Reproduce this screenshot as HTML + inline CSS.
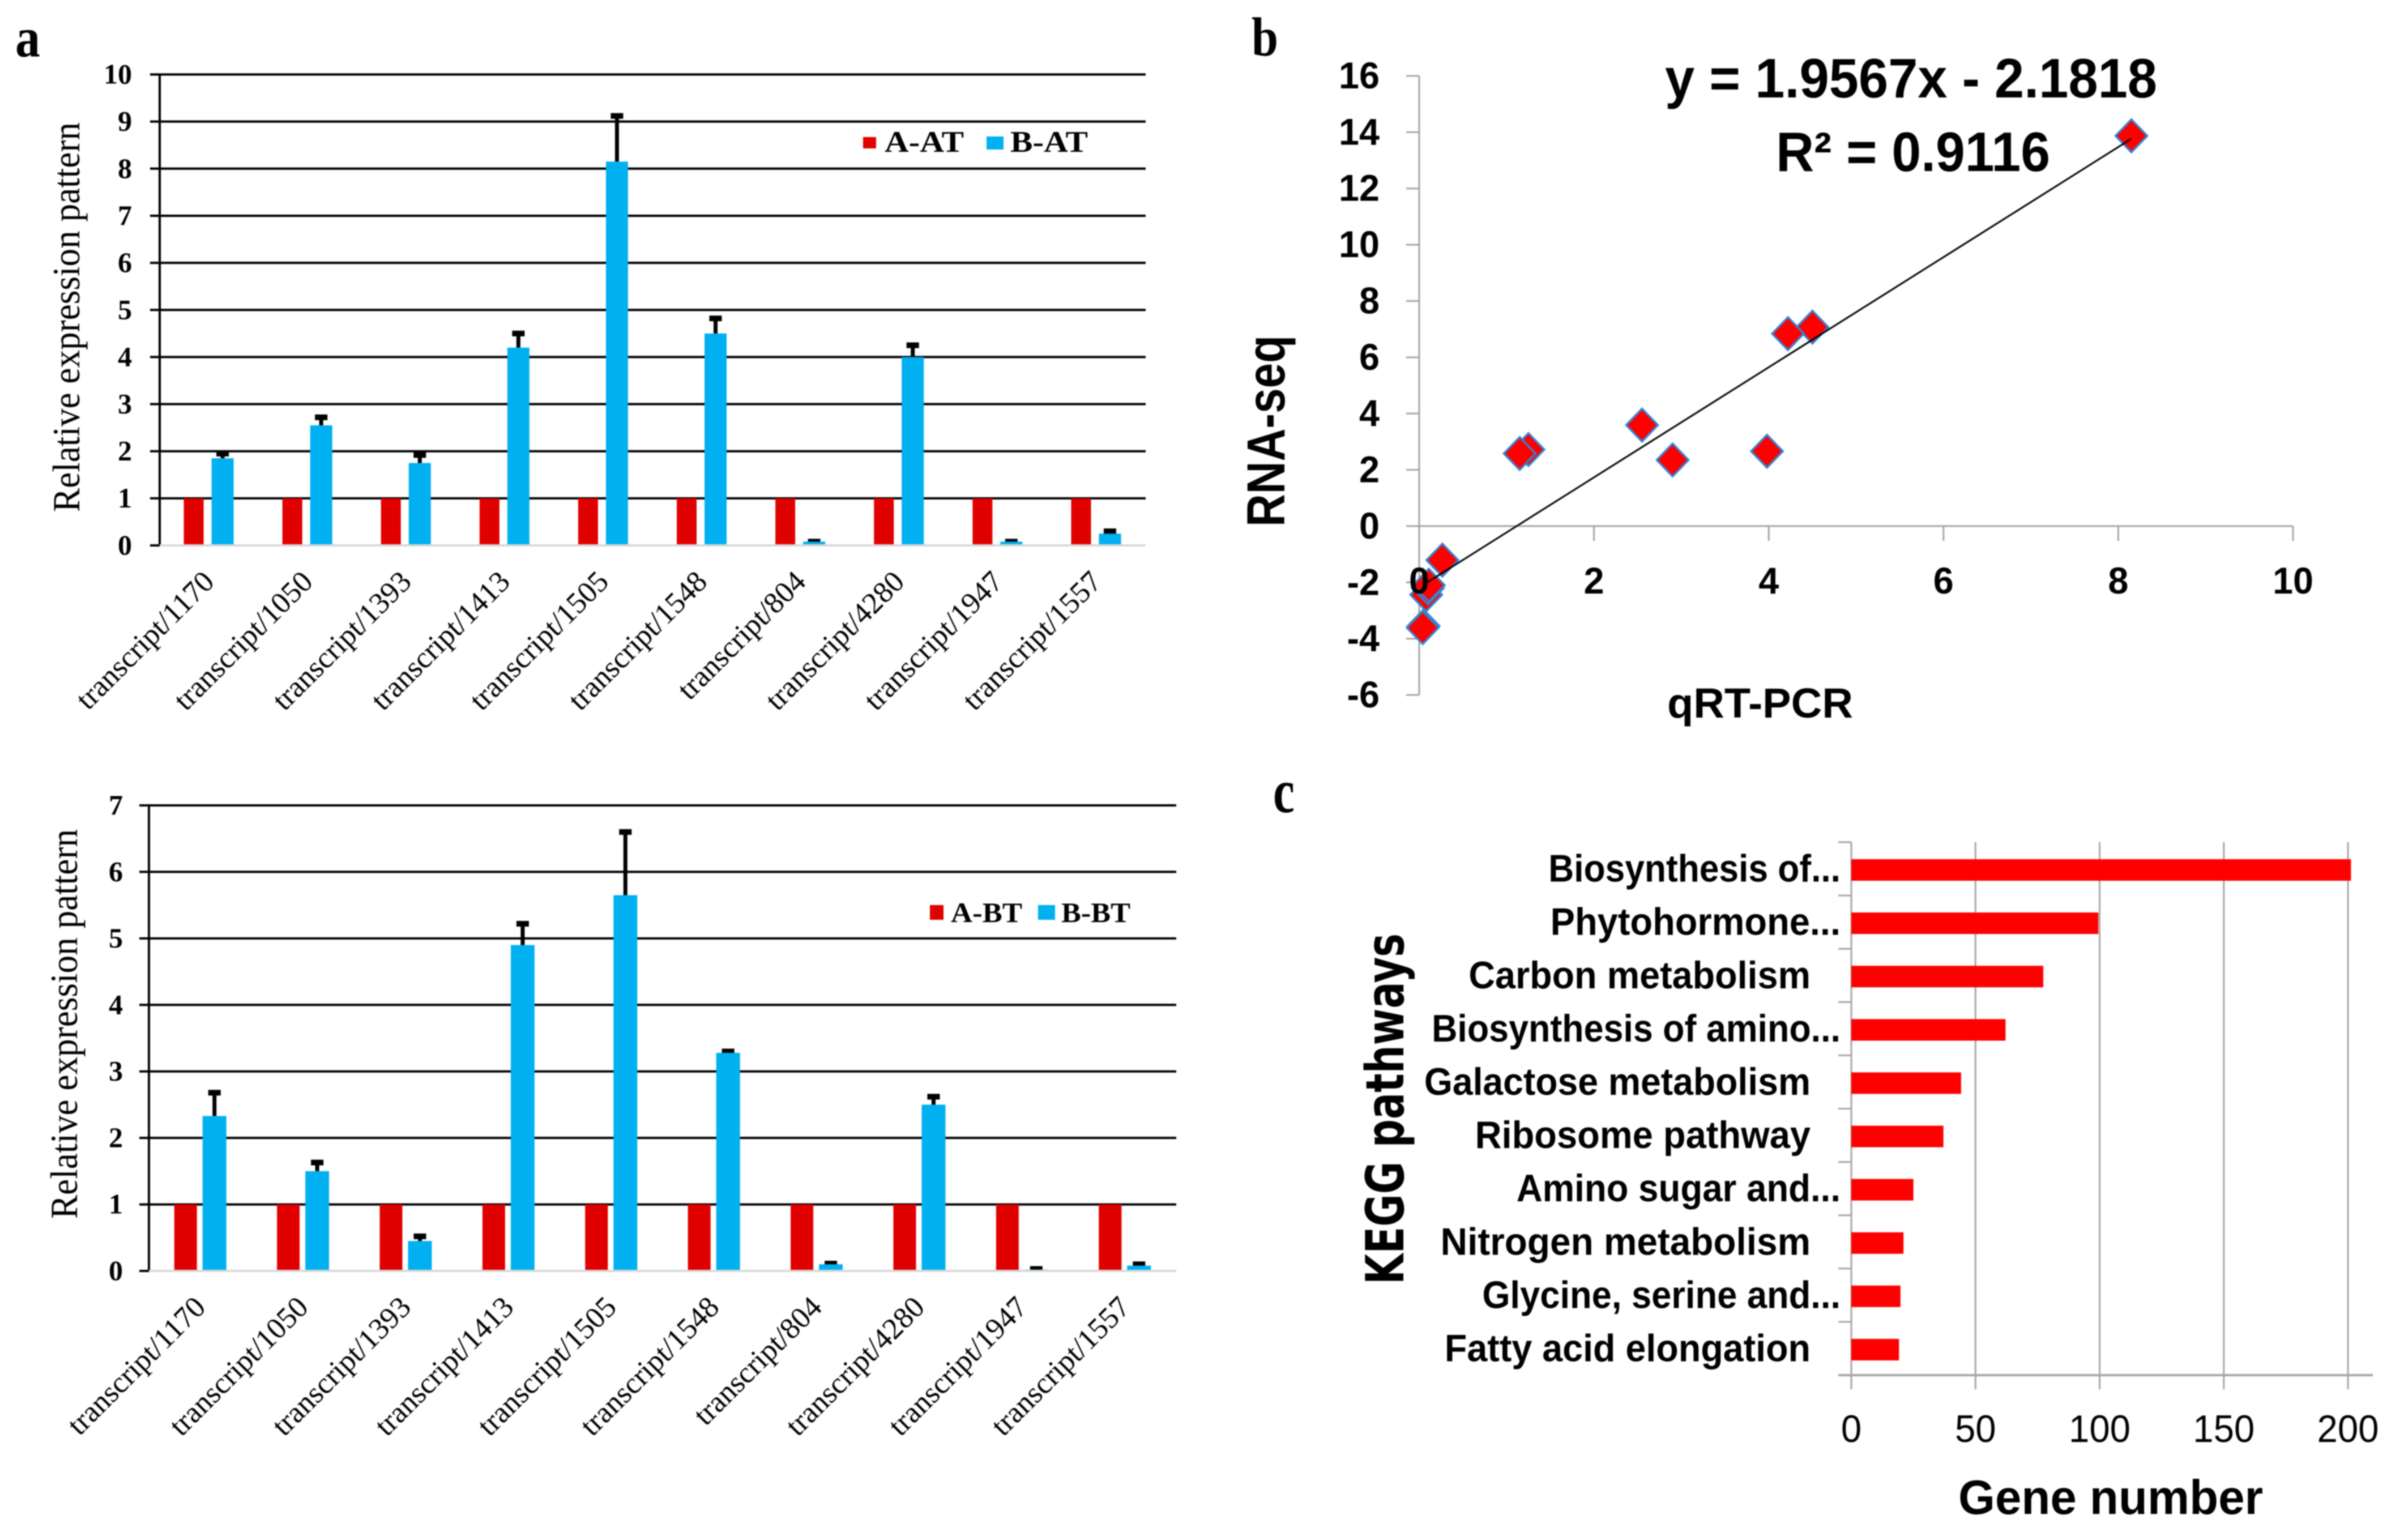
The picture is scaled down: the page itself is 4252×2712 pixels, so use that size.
<!DOCTYPE html>
<html lang="en">
<head>
<meta charset="utf-8">
<title>Transcript expression, qRT-PCR correlation and KEGG pathways</title>
<style>
html,body{margin:0;padding:0;background:#fff;width:4252px;height:2712px;overflow:hidden}
svg{display:block;filter:blur(1px)}
.serif{font-family:"Liberation Serif",serif}
.sans{font-family:"Liberation Sans",sans-serif}
</style>
</head>
<body>
<svg id="figure" xmlns="http://www.w3.org/2000/svg" width="4252" height="2712" viewBox="0 0 4252 2712">
  <rect x="0" y="0" width="4252" height="2712" fill="#fff"/>

  <text class="serif" x="27" y="100" font-size="100" font-weight="bold" textLength="44" lengthAdjust="spacingAndGlyphs">a</text>
  <text class="serif" x="2210" y="98" font-size="98" font-weight="bold" textLength="47" lengthAdjust="spacingAndGlyphs">b</text>
  <text class="serif" x="2248" y="1434" font-size="110" font-weight="bold" textLength="38" lengthAdjust="spacingAndGlyphs">c</text>

  <g id="chart-at"></g>
  <g id="chart-bt"></g>
  <g id="chart-scatter"></g>
  <g id="chart-kegg"></g>

  <text class="serif" transform="translate(140 904) rotate(-90)" font-size="68" textLength="688" lengthAdjust="spacingAndGlyphs">Relative expression pattern</text>
  <text class="serif" transform="translate(136 2152) rotate(-90)" font-size="68" textLength="688" lengthAdjust="spacingAndGlyphs">Relative expression pattern</text>

  <g>
    <rect x="1524" y="242" width="23" height="20" fill="#e00000"/>
    <text class="serif" x="1562" y="268" font-size="53" font-weight="bold" textLength="140" lengthAdjust="spacingAndGlyphs">A-AT</text>
    <rect x="1742" y="241" width="30" height="23" fill="#00b0f0"/>
    <text class="serif" x="1784" y="268" font-size="53" font-weight="bold" textLength="137" lengthAdjust="spacingAndGlyphs">B-AT</text>
  </g>
  <g>
    <rect x="1642" y="1598" width="24" height="26" fill="#e00000"/>
    <text class="serif" x="1679" y="1628" font-size="50" font-weight="bold" textLength="126" lengthAdjust="spacingAndGlyphs">A-BT</text>
    <rect x="1833" y="1598" width="30" height="26" fill="#00b0f0"/>
    <text class="serif" x="1874" y="1628" font-size="50" font-weight="bold" textLength="122" lengthAdjust="spacingAndGlyphs">B-BT</text>
  </g>

  <text class="sans" x="2940" y="172" font-size="98" font-weight="bold" textLength="869" lengthAdjust="spacingAndGlyphs">y = 1.9567x - 2.1818</text>
  <text class="sans" x="3136" y="302" font-size="98" font-weight="bold" textLength="484" lengthAdjust="spacingAndGlyphs">R² = 0.9116</text>
  <text class="sans" transform="translate(2268 930) rotate(-90)" font-size="95" font-weight="bold" textLength="338" lengthAdjust="spacingAndGlyphs">RNA-seq</text>
  <text class="sans" x="2944" y="1267" font-size="74" font-weight="bold" textLength="328" lengthAdjust="spacingAndGlyphs">qRT-PCR</text>

  <text transform="translate(2478 2268) rotate(-90)" font-family="'DejaVu Sans',sans-serif" font-size="93" font-weight="bold" textLength="620" lengthAdjust="spacingAndGlyphs">KEGG pathways</text>
  <text class="sans" x="3458" y="2673" font-size="85" font-weight="bold" textLength="538" lengthAdjust="spacingAndGlyphs">Gene number</text>
</svg>

<script>
// ---- Data: transcript expression ----
const categories = ["transcript/1170","transcript/1050","transcript/1393","transcript/1413","transcript/1505","transcript/1548","transcript/804","transcript/4280","transcript/1947","transcript/1557"];
const atSeriesA = [1,1,1,1,1,1,1,1,1,1];
const atSeriesB = [1.85,2.55,1.75,4.2,8.15,4.5,0.08,4.0,0.08,0.25];
const atErrorTop = [1.95,2.72,1.92,4.5,9.12,4.82,0.08,4.25,0.08,0.3];
const atTicks = [0,1,2,3,4,5,6,7,8,9,10];
const btSeriesA = [1,1,1,1,1,1,1,1,1,1];
const btSeriesB = [2.33,1.5,0.45,4.9,5.65,3.28,0.1,2.5,0.02,0.08];
const btErrorTop = [2.68,1.63,0.52,5.22,6.6,3.3,0.11,2.62,0.03,0.1];
const btTicks = [0,1,2,3,4,5,6,7];

// ---- Data: qRT-PCR vs RNA-seq ----
const scatterQpcr = [8.15,4.5,4.22,2.55,2.9,3.98,1.25,1.15,0.265,0.08,0.1,0.11,0.05,0.04];
const scatterRnaseq = [13.87,7.07,6.84,3.59,2.35,2.66,2.72,2.58,-1.21,-2.44,-2.2,-2.1,-3.55,-3.61];
const trendSlope = 1.9567;
const trendIntercept = -2.1818;
const trendRange = [0.07,8.15];
const scatterXTicks = [0,2,4,6,8,10];
const scatterYTicks = [-6,-4,-2,0,2,4,6,8,10,12,14,16];

// ---- Data: KEGG pathways ----
const keggLabels = ["Biosynthesis of...","Phytohormone...","Carbon metabolism ","Biosynthesis of amino...","Galactose metabolism ","Ribosome pathway ","Amino sugar and...","Nitrogen metabolism ","Glycine, serine and...","Fatty acid elongation "];
const keggValues = [201.2,99.5,77.3,62.1,44.2,37.1,25,21,19.8,19.2];
const keggTicks = [0,50,100,150,200];

const NS = "http://www.w3.org/2000/svg";
function make(parent, tag, attrs, text) {
  const n = document.createElementNS(NS, tag);
  for (const k in attrs) n.setAttribute(k, attrs[k]);
  if (text !== undefined) n.textContent = text;
  parent.appendChild(n);
  return n;
}
function condense(node, factor) {
  node.setAttribute("textLength", node.getComputedTextLength() * factor);
  node.setAttribute("lengthAdjust", "spacingAndGlyphs");
}

function drawExpression(root, prefix, frame, ticks, seriesA, seriesB, errorTop) {
  const yScale = v => frame.bottom - (v / ticks[ticks.length - 1]) * (frame.bottom - frame.top);
  const band = (frame.right - frame.left) / categories.length;
  const xScale = i => frame.left + band * (i + 0.5);

  ticks.forEach(t => {
    const line = make(root, "line", {x1: frame.left - 17, x2: t === 0 ? frame.left : frame.right, y1: yScale(t), y2: yScale(t), stroke: "#000", "stroke-width": 4});
    
    
    const label = make(root, "text", {x: frame.labelRight, y: yScale(t) + 16, "text-anchor": "end", "font-size": 50, "font-weight": "bold", "font-family": '"Liberation Serif",serif'}, String(t));
    
    
  });

  const yAxis = make(root, "line", {x1: frame.left, x2: frame.left, y1: frame.top - 2, y2: frame.bottom + 2, stroke: "#000", "stroke-width": 4});
  
  

  categories.forEach((c, i) => {
    const cx = xScale(i);
    const barA = make(root, "rect", {x: cx + frame.redOffset - frame.redWidth / 2, y: yScale(seriesA[i]), width: frame.redWidth, height: frame.bottom - yScale(seriesA[i]), fill: "#e00000"});
    
    

    const bx = cx + frame.blueOffset;
    const stem = make(root, "line", {x1: bx, x2: bx, y1: yScale(seriesB[i]), y2: yScale(errorTop[i]), stroke: "#000", "stroke-width": 7});
    
    
    const cap = make(root, "rect", {x: bx - 11, y: yScale(errorTop[i]) - 5, width: 22, height: 10, fill: "#000"});
    
    

    const barB = make(root, "rect", {x: bx - frame.blueWidth / 2, y: yScale(seriesB[i]), width: frame.blueWidth, height: frame.bottom - yScale(seriesB[i]), fill: "#00b0f0"});
    
    

    const ex = cx + 12;
    const ey = frame.bottom + 67;
    const label = make(root, "text", {x: ex, y: ey, "text-anchor": "end", "font-size": 53, "font-family": '"Liberation Serif",serif', transform: "rotate(-45 " + ex + " " + ey + ")"}, c);
    
    
  });

  const base = make(root, "line", {x1: frame.left, x2: frame.right, y1: frame.bottom, y2: frame.bottom, stroke: "#d9d9d9", "stroke-width": 4});
  
  
}

drawExpression(document.getElementById("chart-at"), "at", {left: 282, right: 2023, top: 131.5, bottom: 963, labelRight: 233, redOffset: -27, redWidth: 35, blueOffset: 24, blueWidth: 39}, atTicks, atSeriesA, atSeriesB, atErrorTop);
drawExpression(document.getElementById("chart-bt"), "bt", {left: 263, right: 2077, top: 1422, bottom: 2244, labelRight: 217, redOffset: -26, redWidth: 40, blueOffset: 25, blueWidth: 42}, btTicks, btSeriesA, btSeriesB, btErrorTop);

function drawScatter(root) {
  const left = 2506, right = 4049, top = 134, bottom = 1227;
  const xMin = scatterXTicks[0], xMax = scatterXTicks[scatterXTicks.length - 1];
  const yMin = scatterYTicks[0], yMax = scatterYTicks[scatterYTicks.length - 1];
  const xScale = v => left + (v - xMin) / (xMax - xMin) * (right - left);
  const yScale = v => bottom - (v - yMin) / (yMax - yMin) * (bottom - top);
  const axisColor = "#a6a6a6";

  const yAxis = make(root, "line", {x1: left, x2: left, y1: top, y2: bottom, stroke: axisColor, "stroke-width": 3});
  
  
  const xAxis = make(root, "line", {x1: left, x2: right, y1: yScale(0), y2: yScale(0), stroke: axisColor, "stroke-width": 3});
  
  

  scatterYTicks.forEach(t => {
    const tick = make(root, "line", {x1: left - 23, x2: left, y1: yScale(t), y2: yScale(t), stroke: axisColor, "stroke-width": 3});
    
    
    const label = make(root, "text", {x: 2436, y: yScale(t) + 22, "text-anchor": "end", "font-size": 66, "font-weight": "bold", "font-family": '"Liberation Sans",sans-serif'}, String(t));
    
    
    condense(label, 0.98);
  });
  scatterXTicks.forEach(t => {
    const tick = make(root, "line", {x1: xScale(t), x2: xScale(t), y1: yScale(0), y2: yScale(0) + 26, stroke: axisColor, "stroke-width": 3});
    
    
  });

  const rx = 28, ry = 29;
  scatterQpcr.forEach((q, i) => {
    const px = xScale(q), py = yScale(scatterRnaseq[i]);
    const pt = make(root, "polygon", {points: [[px, py - ry], [px + rx, py], [px, py + ry], [px - rx, py]].map(p => p.join(",")).join(" "), fill: "#ff0000", stroke: "#2f86d6", "stroke-width": 3.5});
    
    
  });

  const f = v => trendSlope * v + trendIntercept;
  const trend = make(root, "line", {x1: xScale(trendRange[0]), y1: yScale(f(trendRange[0])), x2: xScale(trendRange[1]), y2: yScale(f(trendRange[1])), stroke: "#000", "stroke-width": 3});
  
  

  scatterXTicks.forEach(t => {
    const label = make(root, "text", {x: xScale(t), y: 1048, "text-anchor": "middle", "font-size": 66, "font-weight": "bold", "font-family": '"Liberation Sans",sans-serif'}, String(t));
    
    
    condense(label, 0.98);
  });
}
drawScatter(document.getElementById("chart-scatter"));

function drawKegg(root) {
  const left = 3269, top = 1487, bottom = 2428;
  const xScale = v => left + v * 4.385;
  const band = (bottom - top) / keggLabels.length;
  const axisColor = "#a6a6a6";
  // Horizontal condensing per label, approximating the narrower original typeface.
  const labelFit = [0.916, 0.955, 0.951, 0.923, 0.945, 0.956, 0.935, 0.966, 0.93, 0.95];

  keggTicks.forEach(t => {
    const grid = make(root, "line", {x1: xScale(t), x2: xScale(t), y1: top, y2: bottom + 25, stroke: axisColor, "stroke-width": 3});
    
    
    const label = make(root, "text", {x: xScale(t), y: 2546, "text-anchor": "middle", "font-size": 68, "font-family": '"Liberation Sans",sans-serif'}, String(t));
    
    
    condense(label, 0.96);
  });

  const xAxis = make(root, "line", {x1: left - 23, x2: 4190, y1: bottom, y2: bottom, stroke: axisColor, "stroke-width": 4});
  
  

  for (let i = 0; i < keggLabels.length; i++) {
    const tick = make(root, "line", {x1: left - 23, x2: left, y1: top + band * i, y2: top + band * i, stroke: axisColor, "stroke-width": 3});
    
    
  }

  keggLabels.forEach((name, i) => {
    const cy = top + band * (i + 0.5) + 2;
    const bar = make(root, "rect", {x: left, y: cy - 19, width: xScale(keggValues[i]) - left, height: 38, fill: "#ff0000"});
    
    
    const endsWithSpace = name.endsWith(" ");
    const label = make(root, "text", {x: endsWithSpace ? 3197 : 3250, y: cy + 20.5, "text-anchor": "end", "font-size": 68, "font-weight": "bold", "font-family": '"Liberation Sans",sans-serif'}, name.trim());
    
    
    condense(label, labelFit[i]);
  });
}
drawKegg(document.getElementById("chart-kegg"));
</script>
</body>
</html>
